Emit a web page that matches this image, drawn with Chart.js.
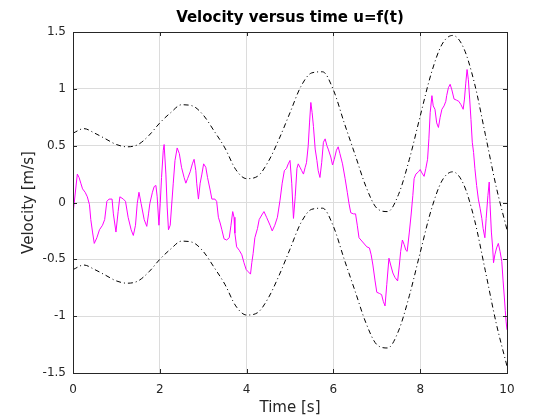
<!DOCTYPE html>
<html>
<head>
<meta charset="utf-8">
<script src="https://cdn.jsdelivr.net/npm/chart.js@4/dist/chart.umd.min.js"></script>
<style>
  html, body { margin: 0; padding: 0; background: #fff; }
  #wrap { width: 560px; height: 420px; }
</style>
</head>
<body>
<div id="wrap"><canvas id="chart" width="560" height="420"></canvas></div>
<script>
// measured velocity samples (time in s, velocity in m/s)
const timeValues = [
  0.00, 0.10, 0.14, 0.18, 0.22, 0.28, 0.33, 0.38, 0.41, 0.45, 0.49, 0.55, 0.61, 0.68, 0.73, 0.78,
  0.83, 0.90, 0.93, 0.99, 1.04, 1.08, 1.16, 1.21, 1.27, 1.34, 1.39, 1.44, 1.48, 1.52, 1.57, 1.64,
  1.70, 1.74, 1.77, 1.83, 1.87, 1.91, 1.94, 1.98, 2.01, 2.04, 2.08, 2.10, 2.14, 2.17, 2.20, 2.24,
  2.27, 2.31, 2.35, 2.40, 2.45, 2.50, 2.56, 2.60, 2.64, 2.70, 2.75, 2.79, 2.83, 2.85, 2.89, 2.93,
  2.97, 3.01, 3.06, 3.10, 3.16, 3.20, 3.27, 3.31, 3.35, 3.39, 3.43, 3.48, 3.54, 3.60, 3.64, 3.68,
  3.71, 3.73, 3.77, 3.83, 3.89, 3.94, 3.99, 4.04, 4.09, 4.12, 4.15, 4.19, 4.25, 4.29, 4.35, 4.40,
  4.46, 4.54, 4.59, 4.65, 4.71, 4.77, 4.82, 4.87, 4.92, 4.96, 5.00, 5.04, 5.08, 5.12, 5.16, 5.19,
  5.23, 5.27, 5.31, 5.35, 5.38, 5.42, 5.45, 5.48, 5.51, 5.54, 5.58, 5.62, 5.65, 5.69, 5.73, 5.77,
  5.81, 5.85, 5.88, 5.94, 5.98, 6.02, 6.07, 6.11, 6.15, 6.21, 6.27, 6.32, 6.36, 6.40, 6.46, 6.51,
  6.55, 6.59, 6.77, 6.83, 6.87, 6.91, 6.96, 7.00, 7.06, 7.11, 7.15, 7.19, 7.23, 7.28, 7.32, 7.37,
  7.42, 7.48, 7.52, 7.55, 7.59, 7.63, 7.67, 7.70, 7.75, 7.79, 7.83, 7.86, 7.90, 7.96, 8.00, 8.04,
  8.09, 8.13, 8.17, 8.20, 8.23, 8.27, 8.30, 8.34, 8.38, 8.42, 8.46, 8.50, 8.55, 8.59, 8.61, 8.65,
  8.69, 8.73, 8.78, 8.84, 8.89, 8.94, 8.99, 9.02, 9.05, 9.08, 9.11, 9.14, 9.17, 9.20, 9.23, 9.26,
  9.30, 9.34, 9.38, 9.42, 9.45, 9.49, 9.52, 9.56, 9.59, 9.61, 9.64, 9.67, 9.69, 9.72, 9.76, 9.80,
  9.84, 9.88, 9.91, 9.94, 9.96, 9.98, 10.00
];
const velocityValues = [
  -0.10, 0.25, 0.22, 0.17, 0.12, 0.09, 0.05, -0.02, -0.15, -0.26, -0.36, -0.31, -0.24, -0.20, -0.15, 0.01,
  0.03, 0.03, -0.10, -0.26, -0.08, 0.05, 0.03, 0.01, -0.13, -0.24, -0.29, -0.20, -0.01, 0.09, -0.01, -0.15,
  -0.21, -0.10, -0.01, 0.09, 0.14, 0.15, 0.05, -0.20, -0.01, 0.22, 0.46, 0.51, 0.25, -0.04, -0.24, -0.20,
  -0.04, 0.17, 0.37, 0.48, 0.43, 0.31, 0.22, 0.17, 0.21, 0.27, 0.34, 0.38, 0.28, 0.17, 0.03, 0.17,
  0.25, 0.34, 0.31, 0.22, 0.11, 0.03, 0.03, 0.01, -0.13, -0.18, -0.24, -0.32, -0.33, -0.31, -0.20, -0.08,
  -0.13, -0.27, -0.39, -0.42, -0.46, -0.53, -0.59, -0.61, -0.63, -0.53, -0.45, -0.31, -0.23, -0.15, -0.11, -0.08,
  -0.13, -0.20, -0.25, -0.20, -0.13, 0.02, 0.17, 0.28, 0.30, 0.34, 0.37, 0.17, -0.14, 0.05, 0.30, 0.34,
  0.31, 0.28, 0.25, 0.31, 0.35, 0.50, 0.70, 0.88, 0.79, 0.67, 0.47, 0.37, 0.28, 0.22, 0.35, 0.53,
  0.56, 0.50, 0.47, 0.40, 0.33, 0.38, 0.46, 0.49, 0.43, 0.34, 0.21, 0.09, -0.01, -0.09, -0.10, -0.10,
  -0.20, -0.31, -0.39, -0.40, -0.46, -0.55, -0.69, -0.79, -0.80, -0.81, -0.87, -0.91, -0.72, -0.49, -0.55, -0.62,
  -0.66, -0.69, -0.55, -0.43, -0.33, -0.37, -0.42, -0.43, -0.26, -0.11, 0.06, 0.21, 0.25, 0.27, 0.29, 0.26,
  0.23, 0.30, 0.38, 0.56, 0.79, 0.94, 0.85, 0.82, 0.70, 0.66, 0.75, 0.82, 0.85, 0.89, 0.94, 1.01,
  1.04, 0.99, 0.91, 0.90, 0.89, 0.86, 0.82, 0.91, 1.05, 1.17, 1.08, 0.91, 0.73, 0.53, 0.44, 0.30,
  0.15, 0.03, -0.05, -0.14, -0.23, -0.31, -0.14, 0.06, 0.18, -0.02, -0.26, -0.40, -0.53, -0.46, -0.40, -0.36,
  -0.43, -0.52, -0.69, -0.84, -0.95, -1.05, -1.12
];

// envelope curves
const envTime = [
  0, 0.25, 0.5, 0.75, 1, 1.25, 1.5, 1.75, 2, 2.25, 2.5, 2.75, 3, 3.25, 3.5, 3.75, 4, 4.25, 4.5, 4.75,
  5, 5.25, 5.5, 5.75, 6, 6.25, 6.5, 6.75, 7, 7.25, 7.5, 7.75, 8, 8.25, 8.5, 8.75, 9, 9.25, 9.5, 9.75, 10
];
const upperValues = [
  0.61, 0.65, 0.61, 0.56, 0.51, 0.49, 0.51, 0.59, 0.70, 0.79, 0.86, 0.85, 0.77, 0.63, 0.48, 0.29, 0.21, 0.23, 0.36, 0.56,
  0.79, 1.02, 1.14, 1.15, 0.99, 0.70, 0.42, 0.14, -0.05, -0.08, 0.07, 0.38, 0.76, 1.13, 1.39, 1.47, 1.36, 1.05, 0.60, 0.14, -0.24
];
const lowerValues = [
  -0.59, -0.55, -0.59, -0.64, -0.69, -0.71, -0.69, -0.61, -0.50, -0.41, -0.34, -0.35, -0.43, -0.57, -0.72, -0.91, -0.99, -0.97, -0.84, -0.64,
  -0.41, -0.18, -0.06, -0.05, -0.21, -0.50, -0.78, -1.06, -1.25, -1.28, -1.13, -0.82, -0.44, -0.07, 0.19, 0.27, 0.16, -0.15, -0.60, -1.06, -1.44
];

const xTicks = [0, 2, 4, 6, 8, 10];
const yTicks = [-1.5, -1, -0.5, 0, 0.5, 1, 1.5];

const toPoints = (xs, ys) => xs.map((x, i) => ({ x: x, y: ys[i] }));

Chart.defaults.font.family = '"DejaVu Sans", sans-serif';

// box around the axes, inward ticks and the title
const framePlugin = {
  id: 'frame',
  afterDatasetsDraw(chart) {
    const { ctx, chartArea: a, scales } = chart;
    ctx.save();
    ctx.strokeStyle = '#262626';
    ctx.lineWidth = 1;
    ctx.beginPath();
    xTicks.forEach(v => {
      const px = Math.round(scales.x.getPixelForValue(v)) + 0.5;
      ctx.moveTo(px, a.bottom); ctx.lineTo(px, a.bottom - 4);
      ctx.moveTo(px, a.top); ctx.lineTo(px, a.top + 4);
    });
    yTicks.forEach(v => {
      const py = Math.round(scales.y.getPixelForValue(v)) + 0.5;
      ctx.moveTo(a.left, py); ctx.lineTo(a.left + 4, py);
      ctx.moveTo(a.right, py); ctx.lineTo(a.right - 4, py);
    });
    ctx.stroke();
    ctx.strokeRect(Math.round(a.left) + 0.5, Math.round(a.top) + 0.5,
      Math.round(a.right - a.left), Math.round(a.bottom - a.top));

    ctx.fillStyle = '#000';
    ctx.font = 'bold 15px "DejaVu Sans", sans-serif';
    ctx.textAlign = 'center';
    ctx.textBaseline = 'middle';
    ctx.fillText('Velocity versus time u=f(t)', (a.left + a.right) / 2, 18);
    ctx.restore();
  }
};

new Chart(document.getElementById('chart'), {
  type: 'scatter',
  data: {
    datasets: [
      {
        data: toPoints(timeValues, velocityValues),
        showLine: true,
        borderColor: '#ff00ff',
        borderWidth: 1,
        pointRadius: 0,
        tension: 0
      },
      {
        data: toPoints(envTime, upperValues),
        showLine: true,
        borderColor: '#000',
        borderWidth: 1,
        borderDash: [5, 3, 1, 3],
        pointRadius: 0,
        cubicInterpolationMode: 'monotone'
      },
      {
        data: toPoints(envTime, lowerValues),
        showLine: true,
        borderColor: '#000',
        borderWidth: 1,
        borderDash: [5, 3, 1, 3],
        pointRadius: 0,
        cubicInterpolationMode: 'monotone'
      }
    ]
  },
  options: {
    responsive: false,
    animation: false,
    layout: { padding: { top: 32, right: 53, left: 0, bottom: 0 } },
    plugins: { legend: { display: false }, tooltip: { enabled: false }, title: { display: false } },
    scales: {
      x: {
        type: 'linear',
        min: 0, max: 10,
        afterBuildTicks: s => { s.ticks = xTicks.map(v => ({ value: v })); },
        afterFit: s => { s.height = 47; },
        ticks: { color: '#262626', font: { size: 12 }, padding: 10, maxRotation: 0 },
        grid: { color: '#dcdcdc', drawTicks: false },
        border: { display: false },
        title: { display: true, text: 'Time [s]', color: '#262626', font: { size: 15 }, padding: { top: 0, bottom: 3 } }
      },
      y: {
        type: 'linear',
        min: -1.5, max: 1.5,
        afterBuildTicks: s => { s.ticks = yTicks.map(v => ({ value: v })); },
        afterFit: s => { s.width = 73; },
        ticks: { color: '#262626', font: { size: 12 }, padding: 7, callback: v => String(v) },
        grid: { color: '#dcdcdc', drawTicks: false },
        border: { display: false },
        title: { display: true, text: 'Velocity [m/s]', color: '#262626', font: { size: 15 }, padding: { top: 20, bottom: 0 } }
      }
    }
  },
  plugins: [framePlugin]
});
</script>
</body>
</html>
